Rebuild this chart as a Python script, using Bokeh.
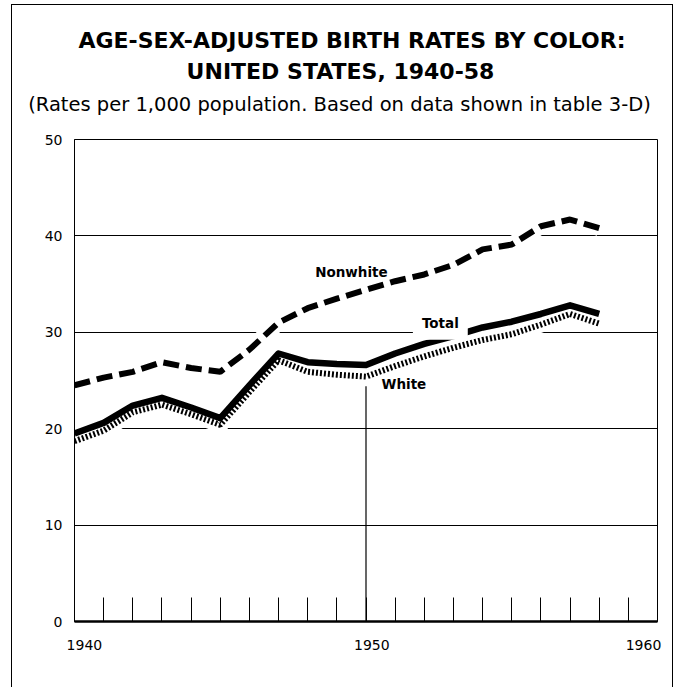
from bokeh.plotting import figure
from bokeh.layouts import column
from bokeh.models import Range1d, FixedTicker, Label, LinearAxis
from bokeh.embed import file_html
from bokeh.resources import INLINE

# ---- data ----
years = list(range(1940, 1959))
nonwhite = [24.5, 25.3, 25.9, 26.9, 26.3, 25.9, 28.2, 31.0, 32.5, 33.5,
            34.4, 35.3, 36.0, 37.0, 38.6, 39.1, 41.0, 41.7, 40.8]
total = [19.5, 20.6, 22.4, 23.2, 22.2, 21.1, 24.5, 27.8, 26.9, 26.7,
         26.6, 27.8, 28.8, 29.6, 30.5, 31.1, 31.9, 32.8, 31.9]
white = [18.7, 19.8, 21.7, 22.5, 21.5, 20.4, 23.8, 27.1, 25.9, 25.6,
         25.4, 26.5, 27.5, 28.4, 29.2, 29.8, 30.8, 31.9, 30.9]

x_ticks = list(range(1940, 1961))
x_label_pos = [1940.34, 1950.2, 1959.52]
x_label_text = ["1940", "1950", "1960"]
y_ticks = [0, 10, 20, 30, 40, 50]
grid_values = [10, 20, 30, 40]
ref_year = [1950]
ref_top = [24.4]

series_labels = ["Nonwhite", "Total", "White"]
label_x = [1949.5, 1952.55, 1951.3]
label_y = [36.3, 31.0, 24.6]

title_lines = ["AGE-SEX-ADJUSTED BIRTH RATES BY COLOR:",
               "UNITED STATES, 1940-58",
               "(Rates per 1,000 population. Based on data shown in table 3-D)"]

FONT = "DejaVu Sans"
W = 660
HEAD_H = 120

# ---- heading block (its own small canvas, pixel-like coordinates) ----
head = figure(width=W, height=HEAD_H, output_backend="svg", toolbar_location=None,
              x_range=Range1d(0, W), y_range=Range1d(HEAD_H, 0),
              x_axis_location=None, y_axis_location=None, min_border=0,
              outline_line_color=None, background_fill_color="white",
              border_fill_color="white")
head.frame_align = False
head.xgrid.grid_line_color = None
head.ygrid.grid_line_color = None
head_specs = [(title_lines[0], 339.5, 34.5, "22px", "bold"),
              (title_lines[1], 328, 65.5, "22px", "bold"),
              (title_lines[2], 327, 98.5, "19.5px", "normal")]
for txt, hx, hy, fs, style in head_specs:
    head.text(x=[hx], y=[hy], text=[txt], text_align="center",
              text_baseline="middle", text_font={"value": FONT}, text_font_size=fs,
              text_font_style=style, text_color="black")

# ---- main chart ----
p = figure(width=W, height=682 - HEAD_H, output_backend="svg", toolbar_location=None,
           x_range=Range1d(1940, 1960), y_range=Range1d(0, 50),
           min_border_left=62, min_border_right=15, min_border_top=134 - HEAD_H,
           min_border_bottom=66, background_fill_color="white",
           border_fill_color="white")
p.frame_align = False

p.outline_line_color = "black"
p.outline_line_width = 1

# tick marks (one per year, drawn upward into the plot)
p.xaxis.ticker = FixedTicker(ticks=x_ticks)
p.xaxis.major_label_overrides = {t: "" for t in x_ticks}
p.xaxis.major_label_standoff = 0
p.xaxis.major_tick_in = 24
p.xaxis.major_tick_out = 0
p.xaxis.major_tick_line_color = "black"
p.xaxis.major_tick_line_width = 1
p.xaxis.minor_tick_line_color = None
p.xaxis.axis_line_width = 2.5
p.xaxis.axis_line_color = "black"

# year labels
lab_axis = LinearAxis(ticker=FixedTicker(ticks=x_label_pos),
                      major_label_overrides=dict(zip(x_label_pos, x_label_text)),
                      axis_line_color=None, major_tick_line_color=None,
                      minor_tick_line_color=None, major_tick_in=0, major_tick_out=0,
                      major_label_standoff=18, major_label_text_font=FONT,
                      major_label_text_font_size="14px",
                      major_label_text_color="black")
p.add_layout(lab_axis, "below")

p.yaxis.ticker = FixedTicker(ticks=y_ticks)
p.yaxis.major_tick_in = 0
p.yaxis.major_tick_out = 0
p.yaxis.minor_tick_line_color = None
p.yaxis.axis_line_color = "black"
p.yaxis.axis_line_width = 1
p.yaxis.major_label_standoff = 12
p.yaxis.major_label_text_font = FONT
p.yaxis.major_label_text_font_size = "14px"
p.yaxis.major_label_text_color = "black"

p.xgrid.grid_line_color = None
p.ygrid.ticker = FixedTicker(ticks=grid_values)
p.ygrid.grid_line_color = "black"
p.ygrid.grid_line_width = 1

# 1950 reference line
p.segment(x0=ref_year, y0=[0], x1=ref_year, y1=ref_top, line_color="black", line_width=1.2)

# white halos that break the grid lines
for ys in (nonwhite, total, white):
    p.line(years, ys, line_color="white", line_width=16, line_join="round")

p.line(years, nonwhite, line_color="black", line_width=6, line_dash="16 7")
p.line(years, white, line_color="black", line_width=6, line_dash="2 2")
p.line(years, total, line_color="black", line_width=6.5, line_join="round")

for txt, lx, ly in zip(series_labels, label_x, label_y):
    p.add_layout(Label(x=lx, y=ly, text=txt, text_align="center",
                       text_baseline="middle", text_font=FONT,
                       text_font_size="13.5px", text_font_style="bold",
                       text_color="black",
                       background_fill_color="white" if txt == "Total" else None,
                       padding=9))

layout = column(head, p, spacing=0)
layout.styles = {"border-top": "1.5px solid black", "border-left": "1.5px solid black",
                 "border-right": "1.5px solid black", "margin-left": "11px",
                 "margin-top": "4px", "width": "fit-content"}

open("out.html", "w").write(file_html(layout, INLINE))
